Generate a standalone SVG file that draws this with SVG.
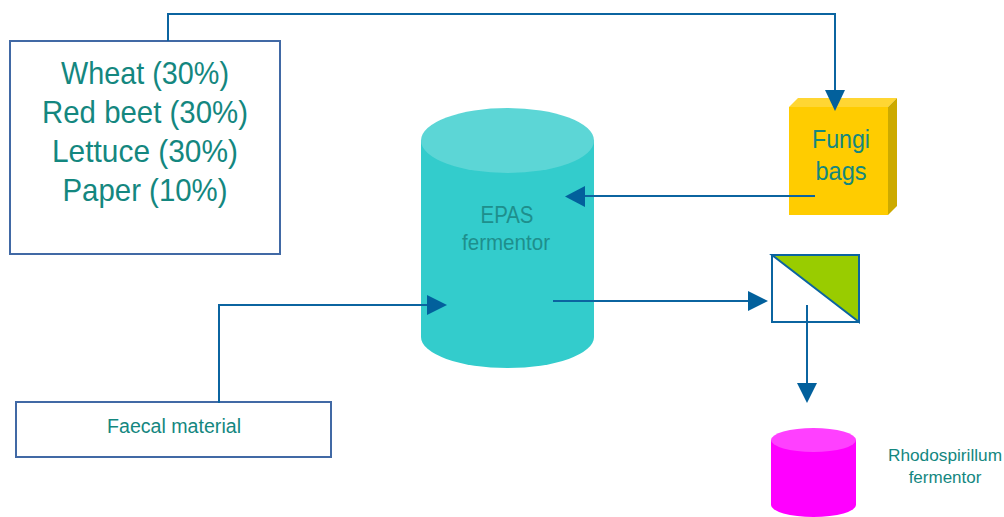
<svg xmlns="http://www.w3.org/2000/svg" width="1004" height="517" viewBox="0 0 1004 517">
<style>
.box{fill:#fff;stroke:#4169a5;stroke-width:2}
.t{font-family:"Liberation Sans",Arial,sans-serif;fill:#14877f;text-anchor:middle}
.ln{fill:none;stroke:#0b64a0;stroke-width:2}
.ah{fill:#02609c}
</style>
<rect width="1004" height="517" fill="#fff"/>
<g id="feed">
<rect class="box" x="10" y="41" width="270" height="213"/>
<text class="t" font-size="32" x="145" y="84" textLength="168" lengthAdjust="spacingAndGlyphs">Wheat (30%)</text>
<text class="t" font-size="32" x="145" y="123" textLength="206" lengthAdjust="spacingAndGlyphs">Red beet (30%)</text>
<text class="t" font-size="32" x="145" y="162" textLength="186" lengthAdjust="spacingAndGlyphs">Lettuce (30%)</text>
<text class="t" font-size="32" x="145" y="201" textLength="165" lengthAdjust="spacingAndGlyphs">Paper (10%)</text>
</g>
<g id="epas">
<path d="M421,140 L421,337 A86.5,31 0 0 0 594,337 L594,140 Z" fill="#33cccc"/>
<ellipse cx="507.5" cy="140.5" rx="86.5" ry="32.5" fill="#5cd6d6"/>
<text class="t" font-size="24" x="507" y="223" fill="#1b8d8a" style="fill:#1e8f8c" textLength="53" lengthAdjust="spacingAndGlyphs">EPAS</text>
<text class="t" font-size="22" x="506" y="250" style="fill:#1e8f8c" textLength="88" lengthAdjust="spacingAndGlyphs">fermentor</text>
</g>
<g id="fungi">
<polygon points="789,107 798,98 897,98 888,107" fill="#ffd633"/>
<polygon points="888,107 897,98 897,206 888,215" fill="#ccaa00"/>
<rect x="789" y="107" width="99" height="108" fill="#ffcc00"/>
<text class="t" font-size="26" x="841" y="148" textLength="58" lengthAdjust="spacingAndGlyphs">Fungi</text>
<text class="t" font-size="26" x="841" y="180" textLength="51" lengthAdjust="spacingAndGlyphs">bags</text>
</g>
<g id="separator">
<rect x="772" y="255" width="87" height="67" fill="#fff" stroke="#0b64a0" stroke-width="2"/>
<polygon points="772,255 859,255 859,322" fill="#99cc00" stroke="#0b64a0" stroke-width="2" stroke-linejoin="miter"/>
</g>
<g id="rhodo">
<path d="M771,440 L771,505 A42.5,12 0 0 0 856,505 L856,440 Z" fill="#ff00ff"/>
<ellipse cx="813.5" cy="440" rx="42.5" ry="12" fill="#ff40ff"/>
<text class="t" font-size="17" x="945" y="461" textLength="114" lengthAdjust="spacingAndGlyphs">Rhodospirillum</text>
<text class="t" font-size="17" x="945" y="483">fermentor</text>
</g>
<g id="faecal">
<rect class="box" x="16" y="402" width="315" height="55"/>
<text class="t" font-size="20" x="174" y="433" textLength="134" lengthAdjust="spacingAndGlyphs">Faecal material</text>
</g>
<g id="connectors">
<polyline class="ln" points="168,41 168,14 835,14 835,92"/>
<polygon class="ah" points="825,90 845,90 835,111"/>
<line class="ln" x1="815" y1="196" x2="584" y2="196"/>
<polygon class="ah" points="585,186 585,207 565,196.5"/>
<polyline class="ln" points="219,403 219,305 430,305"/>
<polygon class="ah" points="427,295 427,315 447,305"/>
<line class="ln" x1="553" y1="301" x2="750" y2="301"/>
<polygon class="ah" points="748,291 748,311 768,301"/>
<line class="ln" x1="807" y1="305" x2="807" y2="385"/>
<polygon class="ah" points="797,383 817,383 807,403"/>
</g>
</svg>
